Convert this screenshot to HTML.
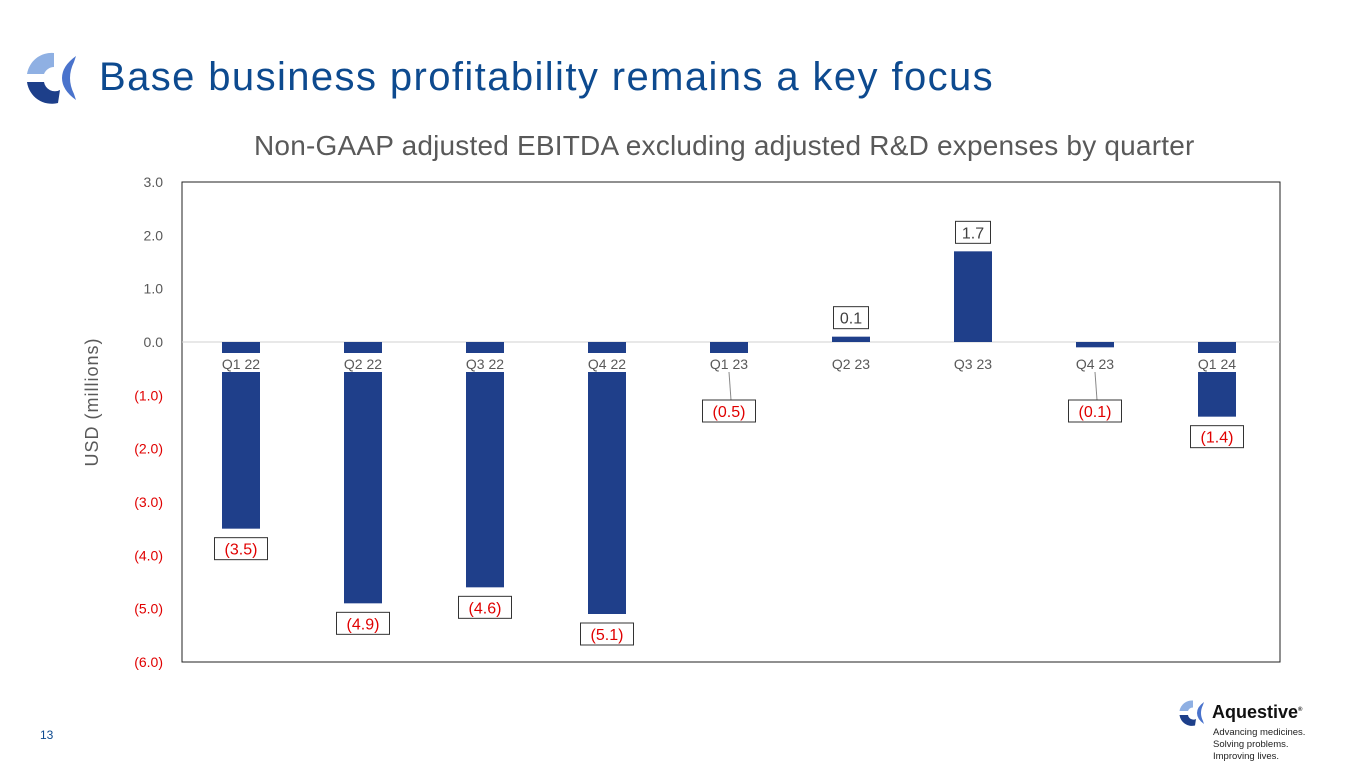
<!DOCTYPE html>
<html><head><meta charset="utf-8"><style>
body{margin:0;width:1365px;height:768px;background:#fff;font-family:"Liberation Sans",sans-serif;overflow:hidden;position:relative}
.t{position:absolute;white-space:nowrap}
</style></head><body>
<svg class="t" style="left:24px;top:52px" width="60" height="52" viewBox="0 0 60 52">
<path d="M30 1 A25 25 0 0 0 3 22 L20 22 A11 11 0 0 1 30 15 Z" fill="#8fb0e3"/>
<path d="M3 30 A25 25 0 0 0 34 51 L36 38 A11 11 0 0 1 20 30 Z" fill="#1d3f8a"/>
<path d="M52 4 Q38 14 38 26 Q38 38 52 48 L50 42 Q46 34 46 26 Q46 18 50 10 Z" fill="#4a73cc"/>
</svg>
<div class="t" style="left:99px;top:55px;font-size:40px;color:#0d4a8f;letter-spacing:1.4px">Base business profitability remains a key focus</div>
<div class="t" style="left:254px;top:130px;font-size:28px;color:#595959;letter-spacing:0.2px">Non-GAAP adjusted EBITDA excluding adjusted R&amp;D expenses by quarter</div>
<svg class="t" style="left:0;top:0" width="1365" height="768" id="chart"></svg>
<div class="t" style="left:40px;top:728px;font-size:12px;color:#0d4a8f">13</div>
<svg class="t" style="left:1178px;top:700px" width="30" height="26" viewBox="0 0 60 52">
<path d="M30 1 A25 25 0 0 0 3 22 L20 22 A11 11 0 0 1 30 15 Z" fill="#8fb0e3"/>
<path d="M3 30 A25 25 0 0 0 34 51 L36 38 A11 11 0 0 1 20 30 Z" fill="#1d3f8a"/>
<path d="M52 4 Q38 14 38 26 Q38 38 52 48 L50 42 Q46 34 46 26 Q46 18 50 10 Z" fill="#4a73cc"/>
</svg>
<div class="t" style="left:1212px;top:702px;font-size:18px;font-weight:bold;color:#111">Aquestive<sup style="font-size:6px">®</sup></div>
<div class="t" style="left:1213px;top:727px;font-size:9.5px;line-height:12px;color:#222">Advancing medicines.<br>Solving problems.<br>Improving lives.</div>
<script>
const categories=["Q1 22","Q2 22","Q3 22","Q4 22","Q1 23","Q2 23","Q3 23","Q4 23","Q1 24"];
const values=[-3.5,-4.9,-4.6,-5.1,-0.5,0.1,1.7,-0.1,-1.4];
const labels=["(3.5)","(4.9)","(4.6)","(5.1)","(0.5)","0.1","1.7","(0.1)","(1.4)"];
const yTicks=[3,2,1,0,-1,-2,-3,-4,-5,-6];
const yTickLabels=["3.0","2.0","1.0","0.0","(1.0)","(2.0)","(3.0)","(4.0)","(5.0)","(6.0)"];
const NS="http://www.w3.org/2000/svg",svg=document.getElementById('chart');
const L=182,R=1280,T=182,B=662,ymax=3,ymin=-6;
const y=v=>T+(ymax-v)/(ymax-ymin)*(B-T);
const step=(R-L)/categories.length;
const x=i=>L+step*(i+0.5)-2;
function mk(tag,a,txt){const e=document.createElementNS(NS,tag);for(const k in a)e.setAttribute(k,a[k]);if(txt!=null)e.textContent=txt;svg.appendChild(e);return e;}
let e=mk('rect',{x:L,y:T,width:R-L,height:B-T,fill:'none',stroke:'#222','stroke-width':1});

e=mk('line',{x1:L,x2:R,y1:y(0),y2:y(0),stroke:'#d0d0d0'});

yTicks.forEach((v,i)=>{const t=mk('text',{x:163,y:y(v)+5,'text-anchor':'end','font-size':14,fill:v<0?'#e00000':'#595959'},yTickLabels[i]);
});
e=mk('text',{x:0,y:0,transform:'translate(98,402) rotate(-90)','text-anchor':'middle','font-size':18,fill:'#595959','letter-spacing':'1'},'USD (millions)');

const bw=38;
values.forEach((v,i)=>{
 const cx=x(i),y0=y(0),y1=y(v);
 const b=mk('rect',{x:cx-bw/2,y:Math.min(y0,y1),width:bw,height:Math.max(Math.abs(y1-y0),1),fill:'#1f3f8a'});
 
});
categories.forEach((c,i)=>{
 const r=mk('rect',{x:x(i)-bw/2,y:y(0)+11,width:bw,height:19,fill:'#fff'});
 
 const t=mk('text',{x:x(i),y:y(0)+27,'text-anchor':'middle','font-size':14,fill:'#595959'},c);
 
});
values.forEach((v,i)=>{
 const cx=x(i),neg=v<0;let cy;
 if(neg){cy=Math.max(y(v)+20,y(0)+69);}else{cy=y(v)-19;}
 if(neg&&y(v)<y(0)+30){const ln=mk('line',{x1:cx,y1:y(0)+30,x2:cx+2,y2:cy-11,stroke:'#888'});
 }
 const w=labels[i].length*9+8;
 const r=mk('rect',{x:cx-w/2,y:cy-11,width:w,height:22,fill:'#fff',stroke:'#333'});
 
 const t=mk('text',{x:cx,y:cy+6,'text-anchor':'middle','font-size':16,fill:neg?'#e00000':'#404040'},labels[i]);
 
});
</script>
</body></html>
